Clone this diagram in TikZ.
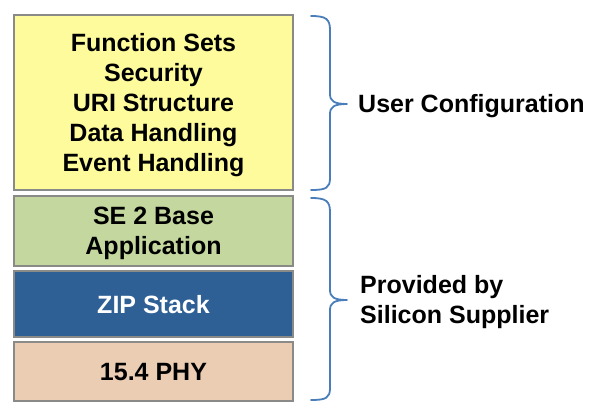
\documentclass[tikz,border=0pt]{standalone}
\usepackage{fontspec}
\setmainfont{Liberation Sans}
\usetikzlibrary{shadows}
\definecolor{boxyellow}{HTML}{FDFB9C}
\definecolor{boxgreen}{HTML}{C4D79E}
\definecolor{boxblue}{HTML}{2E5F95}
\definecolor{boxpeach}{HTML}{EBCDB4}
\definecolor{boxedge}{HTML}{8A8A88}
\definecolor{bracecol}{HTML}{4A7EBB}
\begin{document}
\begin{tikzpicture}[x=1pt,y=-1pt,
  layer/.style={draw=boxedge,line width=1.3pt,minimum width=279pt,align=center,
    inner sep=0pt,text depth=0pt,font=\fontsize{25}{30}\selectfont\bfseries,
    drop shadow={shadow xshift=1.2pt,shadow yshift=-1.2pt,opacity=0.35}},
  lbl/.style={font=\fontsize{25}{30}\selectfont\bfseries,align=left,inner sep=0pt},
  bracestyle/.style={draw=bracecol,line width=1.8pt,line cap=round,line join=round}]
\useasboundingbox (0,0) rectangle (600,417);
\node[layer,fill=boxyellow,minimum height=175pt] (cfg) at (153.5,102.5)
  {Function Sets\\Security\\URI Structure\\Data Handling\\Event Handling};
\node[layer,fill=boxgreen,minimum height=70pt] (app) at (153.5,231)
  {SE 2 Base\\Application};
\node[layer,fill=boxblue,minimum height=66pt,text=white] (zip) at (153.5,304)
  {ZIP Stack};
\node[layer,fill=boxpeach,minimum height=59pt] (phy) at (153.5,371.5)
  {15.4 PHY};
% braces
\draw[bracestyle] (311,16) .. controls (326,16) and (330,19) .. (330,30)
  -- (330,94) .. controls (330,101) and (334,104) .. (347,104)
  .. controls (334,104) and (330,107) .. (330,114)
  -- (330,178) .. controls (330,188) and (326,190) .. (311,190);
\draw[bracestyle] (311,198) .. controls (326,198) and (330,201) .. (330,212)
  -- (330,290) .. controls (330,297) and (334,300) .. (347,300)
  .. controls (334,300) and (330,303) .. (330,310)
  -- (330,388) .. controls (330,398) and (326,400) .. (311,400);
\node[lbl,anchor=base west] (user) at (358,113) {User Configuration};
\node[lbl,anchor=base west] (prov) at (360,323) {Provided by\\Silicon Supplier};
\end{tikzpicture}
\end{document}
